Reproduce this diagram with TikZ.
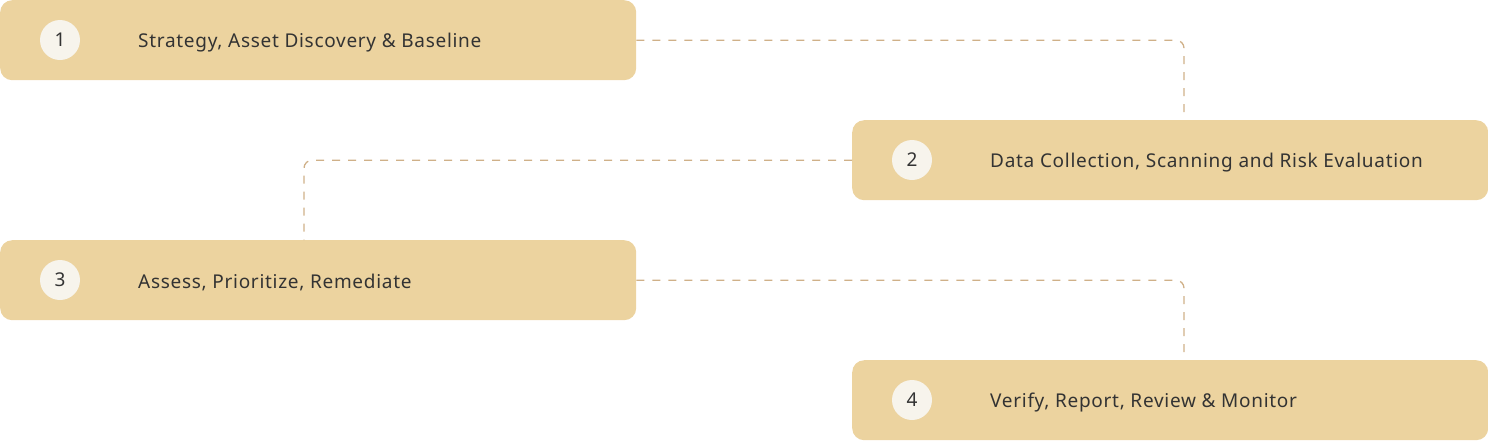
\documentclass[tikz,border=0pt]{standalone}
\usepackage{fontspec}
\setmainfont{Noto Sans}[LetterSpace=3.7]
\usetikzlibrary{calc}
\definecolor{boxfill}{HTML}{ECD39F}
\definecolor{circfill}{HTML}{F7F4EC}
\definecolor{txt}{HTML}{333333}
\definecolor{conncol}{HTML}{CFB088}
\tikzset{
  stepbox/.style={draw=none, fill=boxfill, rounded corners=12pt, minimum width=636pt, minimum height=80pt, inner sep=0pt, anchor=north west},
  numcirc/.style={circle, fill=circfill, minimum size=40pt, inner sep=0pt, text=txt, font=\fontsize{19}{22}\selectfont},
  lbl/.style={anchor=west, text=txt, inner sep=0pt, font=\fontsize{19}{22}\selectfont},
  conn/.style={draw=conncol, line width=1.3pt, dash pattern=on 8pt off 8pt, rounded corners=8pt}
}
\begin{document}
\begin{tikzpicture}[x=1pt,y=-1pt]
\useasboundingbox (0,0) rectangle (1488,440);
\node[stepbox] (b1) at (0,0) {};
\node[stepbox] (b2) at (852,120) {};
\node[stepbox] (b3) at (0,240) {};
\node[stepbox] (b4) at (852,360) {};
\node[numcirc] (c1) at (60,40) {1};
\node[numcirc] (c2) at (912,160) {2};
\node[numcirc] (c3) at (60,280) {3};
\node[numcirc] (c4) at (912,400) {4};
\node[lbl] (t1) at (138,42.5) {Strategy, Asset Discovery \& Baseline};
\node[lbl] (t2) at (990,162.5) {Data Collection, Scanning and Risk Evaluation};
\node[lbl] (t3) at (138,282.5) {Assess, Prioritize, Remediate};
\node[lbl] (t4) at (990,402.5) {Verify, Report, Review \& Monitor};
\coordinate (e2) at (1184,120);
\coordinate (e3) at (304,240);
\coordinate (e4) at (1184,360);
\draw[conn] (b1.east) -| (e2);
\draw[conn] (b2.west) -| (e3);
\draw[conn] (b3.east) -| (e4);
\end{tikzpicture}
\end{document}
